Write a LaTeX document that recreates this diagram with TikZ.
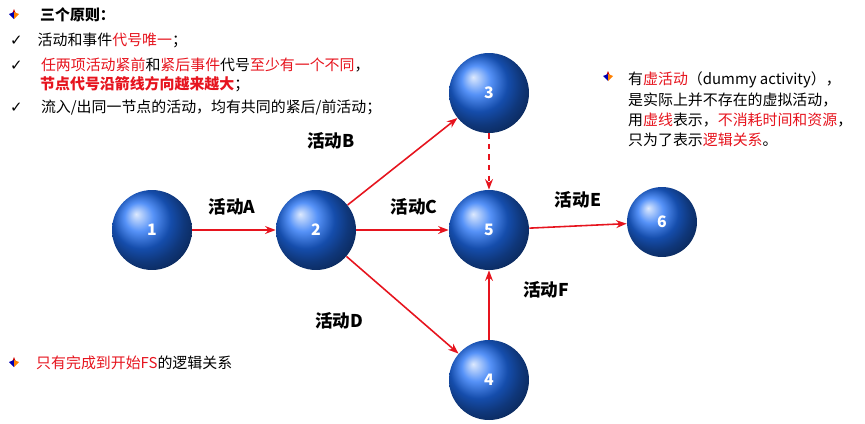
\documentclass[tikz,border=0pt]{standalone}
\usepackage{fontspec}
\setmainfont{Noto Sans CJK SC}
\newfontfamily\symfont{DejaVu Sans}
\usetikzlibrary{arrows.meta}
\definecolor{hlred}{RGB}{230,20,30}
\definecolor{ballblue}{RGB}{30,110,245}
\newcommand{\hl}[1]{\textcolor{hlred}{#1}}
\newcommand{\tick}{{\symfont ✓}}
\begin{document}
\begin{tikzpicture}[x=0.02cm, y=-0.02cm,
  event/.style={circle, minimum size=1.6cm, shading=ball, ball color=ballblue, text=white, font=\bfseries\small},
  act/.style={draw=hlred, line width=0.9pt, -{Stealth[length=6pt]}},
  actlabel/.style={font=\bfseries\fontsize{10}{12}\selectfont},
  note/.style={anchor=west, font=\fontsize{8.5}{11.5}\selectfont, align=left}]
\useasboundingbox (0,0) rectangle (865,423);

\node[event] (e1) at (152,230) {1};
\node[event] (e2) at (316,230) {2};
\node[event] (e3) at (489,93) {3};
\node[event] (e5) at (489,230) {5};
\node[event] (e4) at (489,380) {4};
\node[event, minimum size=1.4cm] (e6) at (662,222) {6};

\draw[act] (e1) -- (e2);
\draw[act] (e2) -- (e3);
\draw[act] (e2) -- (e5);
\draw[act] (e2) -- (e4);
\draw[act, dashed] (e3) -- (e5);
\draw[act] (e4) -- (e5);
\draw[act] (e5) -- (e6);

\node[actlabel] (la) at (232,207) {活动A};
\node[actlabel] (lb) at (331,141) {活动B};
\node[actlabel] (lc) at (414,207) {活动C};
\node[actlabel] (ld) at (339,321) {活动D};
\node[actlabel] (le) at (578,200) {活动E};
\node[actlabel] (lf) at (546,290) {活动F};

% bullet icons
\foreach \x/\y in {14/14, 608/76, 14/362}{
  \fill[red!80!black] (\x,\y-5) -- (\x+2,\y) -- (\x-2,\y) -- cycle;
  \fill[blue!70!black] (\x-5,\y) -- (\x,\y-2) -- (\x,\y+5) -- cycle;
  \fill[orange] (\x+5,\y) -- (\x,\y-2) -- (\x,\y+5) -- cycle;
}

\node[note, font=\bfseries\fontsize{8.5}{11.5}\selectfont] (t0) at (34,15) {三个原则：};
\node[note] (t1) at (4,40) {\tick\quad 活动和事件\hl{代号唯一}；};
\node[note] (t2) at (4,65) {\tick\quad\ \hl{任两项活动紧前}和\hl{紧后事件}代号\hl{至少有一个不同}，};
\node[note] (t3) at (34,84) {\hl{\bfseries 节点代号沿箭线方向越来越大}；};
\node[note] (t4) at (4,108) {\tick\quad\ 流入/出同一节点的活动，均有共同的紧后/前活动；};

\node[note, anchor=north west] (t5) at (622,66) {有\hl{虚活动}（dummy activity），\\是实际上并不存在的虚拟活动，\\用\hl{虚线}表示，\hl{不消耗时间和资源}，\\只为了表示\hl{逻辑关系}。};

\node[note] (t6) at (30,363) {\hl{只有完成到开始FS}的逻辑关系};
\end{tikzpicture}
\end{document}
